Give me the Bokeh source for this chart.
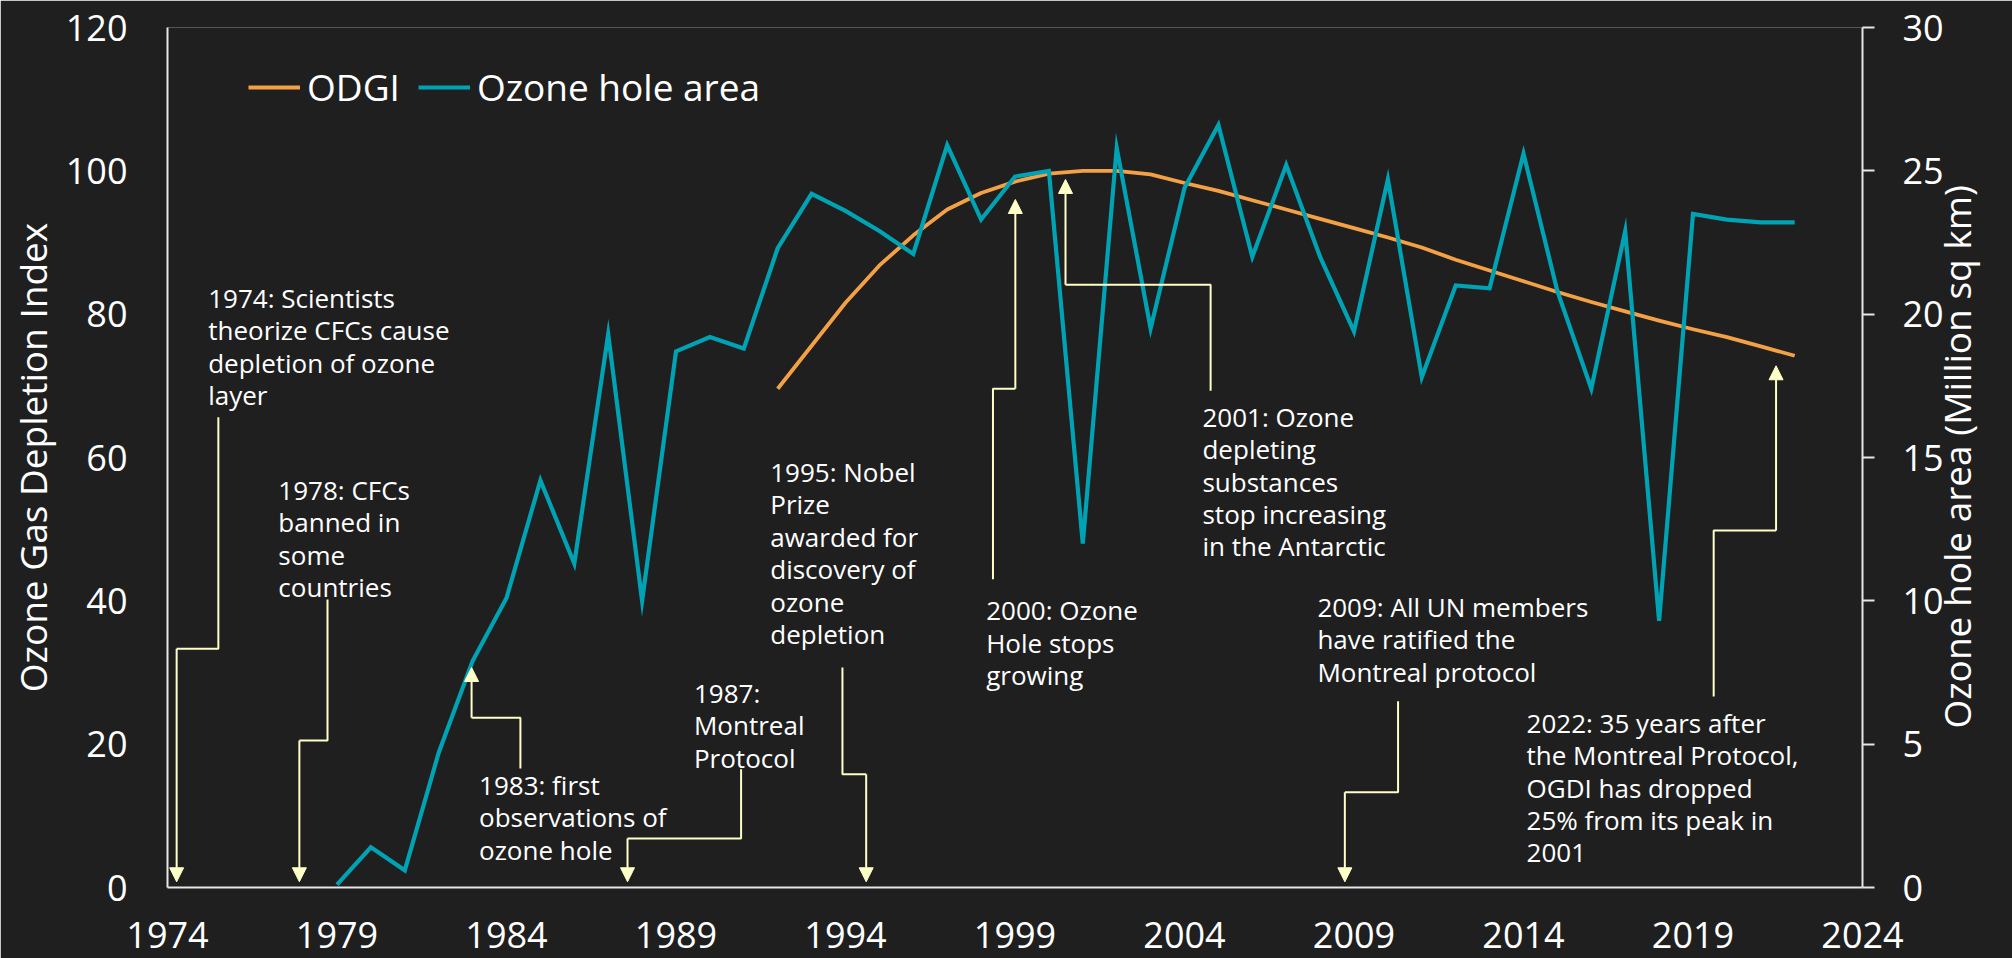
import math
from bokeh.plotting import figure
from bokeh.models import (Range1d, LinearAxis, FixedTicker, Arrow, NormalHead,
                          Legend, LegendItem)
from bokeh.core.properties import value
from bokeh.embed import file_html
from bokeh.resources import INLINE

# ---------------- data ----------------
years_area = list(range(1979, 2023))
ozone_hole_area = [0.1, 1.4, 0.6, 4.7, 7.9, 10.1, 14.2, 11.3, 19.3, 10.0,
                   18.7, 19.2, 18.8, 22.3, 24.2, 23.6, 22.9, 22.1, 25.9, 23.3,
                   24.8, 25.0, 12.0, 25.8, 19.5, 24.4, 26.6, 22.0, 25.2, 22.0,
                   19.4, 24.7, 17.8, 21.0, 20.9, 25.6, 20.8, 17.4, 22.9, 9.3,
                   23.5, 23.3, 23.2, 23.2]

years_odgi = list(range(1992, 2023))
odgi = [69.6, 75.6, 81.6, 86.8, 91.0, 94.6, 96.9, 98.5, 99.6, 100.0,
        100.0, 99.5, 98.3, 97.2, 95.9, 94.6, 93.3, 92.0, 90.7, 89.3,
        87.6, 86.1, 84.6, 83.1, 81.7, 80.4, 79.1, 77.9, 76.8, 75.5, 74.2]

x_ticks = [1974, 1979, 1984, 1989, 1994, 1999, 2004, 2009, 2014, 2019, 2024]
left_ticks = [0, 20, 40, 60, 80, 100, 120]
right_ticks = [0, 5, 10, 15, 20, 25, 30]

left_title = "Ozone Gas Depletion Index"
right_title = "Ozone hole area (Million sq km)"

ann_texts = [
    "1974: Scientists\ntheorize CFCs cause\ndepletion of ozone\nlayer",
    "1978: CFCs\nbanned in\nsome\ncountries",
    "1983: first\nobservations of\nozone hole",
    "1987:\nMontreal\nProtocol",
    "1995: Nobel\nPrize\nawarded for\ndiscovery of\nozone\ndepletion",
    "2000: Ozone\nHole stops\ngrowing",
    "2001: Ozone\ndepleting\nsubstances\nstop increasing\nin the Antarctic",
    "2009: All UN members\nhave ratified the\nMontreal protocol",
    "2022: 35 years after\nthe Montreal Protocol,\nOGDI has dropped\n25% from its peak in\n2001",
]
# text anchor (top-left), in data coordinates
ann_tx = [1975.20, 1977.27, 1983.19, 1989.53, 1991.78, 1998.15, 2004.53, 2007.92, 2014.09]
ann_ty = [84.8, 58.0, 16.8, 29.65, 60.5, 41.2, 68.2, 41.65, 25.5]
# elbow connector: start x, start y, elbow y, arrow x, arrow tip y
ann_sx = [1975.50, 1978.72, 1984.41, 1990.92, 1993.91, 1998.35, 2004.77, 2010.30, 2019.61]
ann_sy = [65.6, 40.2, 16.6, 16.5, 30.7, 43.0, 69.3, 26.0, 26.65]
ann_ey = [33.3, 20.5, 23.7, 6.84, 15.8, 69.6, 84.1, 13.3, 49.8]
ann_ax = [1974.27, 1977.89, 1982.97, 1987.57, 1994.61, 1999.01, 2000.49, 2008.73, 2021.45]
ann_ay = [0.8, 0.8, 30.7, 0.8, 0.8, 96.0, 98.8, 0.8, 72.8]

# ---------------- style ----------------
BG = "#1f1f1f"
FG = "#ffffff"
AXIS = "#e6e6e6"
ORANGE = "#f4a045"
TEAL = "#00a3b4"
ANN = "#ffffc8"
FONT = "Open Sans"

p = figure(width=2012, height=958, x_range=Range1d(1974, 2024), y_range=Range1d(0, 120),
           output_backend="svg", toolbar_location=None,
           background_fill_color=BG, border_fill_color=BG,
           min_border_left=167, min_border_right=150, min_border_top=27, min_border_bottom=71)
p.outline_line_color = None
p.grid.visible = False
# "area" = right-hand scale; "px" = a pixel-like helper range for placing the right title
p.extra_y_ranges = {"area": Range1d(0, 30), "px": Range1d(0, 860)}

# x axis
xa = p.xaxis[0]
xa.ticker = FixedTicker(ticks=x_ticks)
xa.major_tick_out = 0
xa.major_tick_in = 0
xa.minor_tick_out = 0
xa.minor_tick_in = 0
xa.axis_line_color = AXIS
xa.axis_line_width = 2
xa.major_label_text_font = FONT
xa.major_label_text_font_size = "36px"
xa.major_label_text_color = FG
xa.major_label_standoff = 34

# left axis
ya = p.yaxis[0]
ya.ticker = FixedTicker(ticks=left_ticks)
ya.major_tick_out = 0
ya.major_tick_in = 0
ya.minor_tick_out = 0
ya.minor_tick_in = 0
ya.axis_line_color = AXIS
ya.axis_line_width = 2
ya.major_label_text_font = FONT
ya.major_label_text_font_size = "36px"
ya.major_label_text_color = FG
ya.major_label_standoff = 40
ya.axis_label = left_title
ya.axis_label_text_font = FONT
ya.axis_label_text_font_size = "37px"
ya.axis_label_text_font_style = "normal"
ya.axis_label_text_color = FG
ya.axis_label_standoff = 5

# right axis
ra = LinearAxis(y_range_name="area", ticker=FixedTicker(ticks=right_ticks))
ra.major_tick_out = 12
ra.major_tick_in = 0
ra.minor_tick_out = 0
ra.minor_tick_in = 0
ra.major_tick_line_color = AXIS
ra.major_tick_line_width = 2
ra.axis_line_color = AXIS
ra.axis_line_width = 2
ra.major_label_text_font = FONT
ra.major_label_text_font_size = "36px"
ra.major_label_text_color = FG
ra.major_label_standoff = 28
p.add_layout(ra, "right")

# right title: a one-tick helper axis whose label reads bottom-to-top
TITLE_START = 159
ta = LinearAxis(y_range_name="px", ticker=FixedTicker(ticks=[TITLE_START]),
                major_label_overrides={TITLE_START: right_title})
ta.axis_line_color = None
ta.major_tick_line_color = None
ta.minor_tick_line_color = None
ta.major_tick_out = 0
ta.major_tick_in = 0
ta.minor_tick_out = 0
ta.minor_tick_in = 0
ta.major_label_orientation = math.pi / 2
ta.major_label_text_font = FONT
ta.major_label_text_font_size = "37px"
ta.major_label_text_color = FG
ta.major_label_standoff = 10
p.add_layout(ta, "right")

# series
r_odgi = p.line(years_odgi, odgi, line_color=ORANGE, line_width=3.8, line_join="round")
r_area = p.line(years_area, ozone_hole_area, y_range_name="area", line_color=TEAL,
                line_width=4.2, line_join="miter")

# annotations
for i in range(len(ann_texts)):
    p.line([ann_sx[i], ann_sx[i], ann_ax[i]], [ann_sy[i], ann_ey[i], ann_ey[i]],
           line_color=ANN, line_width=2)
    p.add_layout(Arrow(end=NormalHead(size=14, fill_color=ANN, line_color=ANN, line_width=1),
                       x_start=ann_ax[i], y_start=ann_ey[i], x_end=ann_ax[i], y_end=ann_ay[i],
                       line_color=ANN, line_width=2))

p.text(x=ann_tx, y=ann_ty, text=ann_texts, text_font=value(FONT), text_font_size="26px",
       text_color=FG, text_align="left", text_baseline="top", text_line_height=0.9)

legend = Legend(items=[LegendItem(label="ODGI", renderers=[r_odgi]),
                       LegendItem(label="Ozone hole area", renderers=[r_area])],
                orientation="horizontal", location=(81, 775))
legend.label_text_font = FONT
legend.label_text_font_size = "37px"
legend.label_text_color = FG
legend.glyph_width = 52
legend.glyph_height = 40
legend.label_standoff = 7
legend.spacing = 18
legend.padding = 0
legend.margin = 0
legend.border_line_color = None
legend.background_fill_alpha = 0
p.add_layout(legend)

open("out.html", "w").write(file_html(p, INLINE))
